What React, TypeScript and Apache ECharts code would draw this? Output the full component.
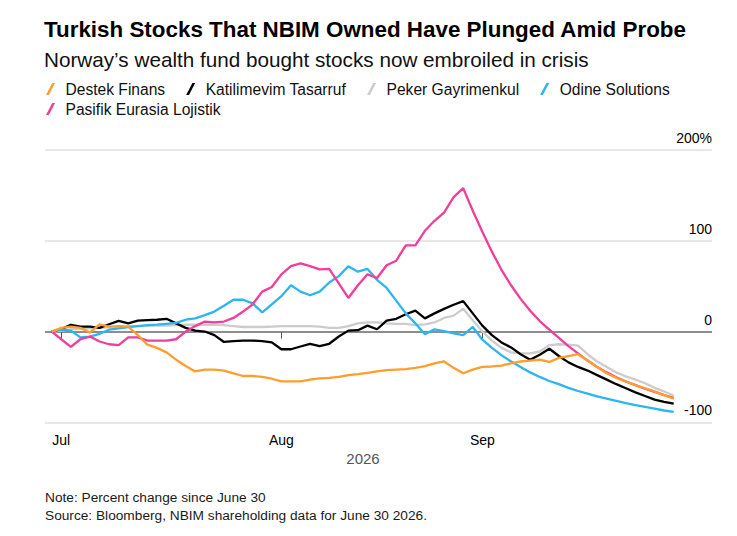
import React, { useEffect, useRef } from "react";
import * as echarts from "echarts";

// Trading-day index 0 = June 30 2026, 1 = July 1, 24 = Aug 3, 45 = Sep 1, 65 = Sep 30
const seriesNames = [
  "Destek Finans",
  "Katilimevim Tasarruf",
  "Peker Gayrimenkul",
  "Odine Solutions",
  "Pasifik Eurasia Lojistik",
];
const seriesColors = ["#ff9e2c", "#000000", "#cccccc", "#2cb5ef", "#f23d9b"];

const destek = [
  0, 4, 5.5, 4, -1, 8, 5.5, 6, 5.5, -4, -14.5, -18, -23, -31, -38, -44, -42, -42, -43, -46,
  -49, -49, -50, -52, -55, -55, -55, -53, -51.5, -51, -50, -48, -47, -45.5, -44, -42.5, -42, -41.5, -40, -38,
  -35, -33, -40, -46, -42, -39, -38.5, -37.5, -35, -33, -32, -31, -33.5, -29, -27, -25, -32, -39, -46, -51,
  -55, -59, -62.5, -66, -70, -74,
];
const katilimevim = [
  0, 2.6, 7.3, 5.5, 5.5, 4, 8, 11.7, 9, 12, 12.5, 13, 14, 9, 4, 1, 0, -4, -11.5, -10.5,
  -10, -10, -10.5, -12, -19.5, -19.5, -16.5, -13.5, -16, -13.5, -5.5, 1, 1.5, 6.5, 2.5, 12, 14, 19, 23, 14.5,
  20, 25, 29.5, 33.5, 20, 6.5, -4, -12, -17.5, -25, -31, -25.5, -19, -27, -34, -39, -43, -48, -53, -58,
  -62.5, -67, -71, -75, -77.5, -79.5,
];
const peker = [
  0, 1, 2.5, 3, 3.5, 4, 4.5, 5, 5.5, 6, 6, 6.5, 6.5, 7, 7.5, 7.5, 7.5, 7.5, 7, 6,
  5, 5, 5, 5.5, 6, 6, 6, 6, 5.5, 4, 4, 6, 9, 10, 10, 9, 8.5, 8.5, 7, 8,
  10, 15, 17.5, 25, 12.5, 0, -10, -18, -23, -24, -24, -22, -15, -14, -14.5, -15.5, -25, -33, -39, -45,
  -49.5, -53, -57, -62, -66, -70.5,
];
const odine = [
  0, 2, 1, -6.5, -5.5, -2.5, 2, 3.5, 5, 6, 7, 7.5, 8.5, 9.5, 13, 14.5, 18, 22, 28.5, 35,
  35, 31, 21, 30, 39, 51, 44, 40, 44, 54, 61, 72, 66, 69, 57, 48, 34, 20, 9, -3,
  2.5, 0.5, -2, -4, 5, -9, -18, -26, -33, -39, -45, -50, -54.5, -58, -62, -65.5, -68.5, -71.5, -74, -76.5,
  -79, -81, -83, -85, -87, -88.5,
];
const pasifik = [
  0, -8.5, -17, -8.5, -5.5, -11, -14, -15, -6.5, -6.5, -10, -10, -10, -8.5, 0, 6, 11, 10, 11, 15,
  22, 30, 44, 49, 63, 72, 75, 72, 68.5, 69, 53, 37, 51, 63, 59, 73, 78, 95, 95, 111,
  122, 131, 148, 158, 133, 110, 88, 68, 51, 36, 23, 11.5, 2, -7, -16, -24, -32, -39, -45, -50.5,
  -55, -59, -63, -66.5, -70, -73,
];
const seriesValues = [destek, katilimevim, peker, odine, pasifik];
const seriesZ = [6, 3, 2, 4, 5];

const monthTickIndex = [1, 24, 45];
const monthTickLabels = ["Jul", "Aug", "Sep"];
const yTicks = [-100, 0, 100, 200];

const FONT = "'Liberation Sans', Arial, Helvetica, sans-serif";
const SLASH = "path://M0,12 L2.8,12 L9,0 L6.2,0 Z";

export default function App() {
  const ref = useRef<HTMLDivElement>(null);

  useEffect(() => {
    document.body.style.margin = "0";
    if (!ref.current) return;
    const chart = echarts.init(ref.current, undefined, { renderer: "svg" });

    const series = seriesNames.map((name, k) => {
      const s: any = {
        name,
        type: "line",
        data: seriesValues[k].map((v, i) => [i, v]),
        showSymbol: false,
        symbol: "none",
        lineStyle: { width: 2.3, color: seriesColors[k] },
        itemStyle: { color: seriesColors[k] },
        z: seriesZ[k],
        emphasis: { disabled: true },
      };
      if (k === 0) {
        s.markLine = {
          silent: true,
          symbol: "none",
          label: { show: false },
          lineStyle: { color: "#6f6f6f", width: 1.6, type: "solid" },
          data: [{ yAxis: 0 }],
          z: 1,
        };
      }
      return s;
    });

    const legendCommon = {
      icon: SLASH,
      itemWidth: 10,
      itemHeight: 12,
      itemGap: 21,
      left: 46,
      padding: 0,
      selectedMode: false,
      textStyle: {
        fontFamily: FONT,
        fontSize: 15.6,
        color: "#111",
        padding: [0, 0, 0, 5],
      },
    };

    chart.setOption({
      animation: false,
      backgroundColor: "#ffffff",
      textStyle: { fontFamily: FONT },
      title: [
        {
          text: "Turkish Stocks That NBIM Owned Have Plunged Amid Probe",
          left: 44,
          top: 18,
          padding: 0,
          textStyle: { fontFamily: FONT, fontSize: 22.4, fontWeight: "bold", color: "#000" },
        },
        {
          text: "Norway\u2019s wealth fund bought stocks now embroiled in crisis",
          left: 44,
          top: 48.5,
          padding: 0,
          textStyle: { fontFamily: FONT, fontSize: 20.7, fontWeight: "normal", color: "#111" },
        },
      ],
      legend: [
        { ...legendCommon, top: 81, data: seriesNames.slice(0, 4) },
        { ...legendCommon, top: 101, data: seriesNames.slice(4) },
      ],
      grid: { left: 45, right: 25, top: 150, bottom: 113.7, containLabel: false },
      xAxis: {
        type: "value",
        min: -0.7,
        max: 69,
        splitLine: { show: false },
        axisLine: { show: false },
        axisTick: {
          show: true,
          customValues: monthTickIndex,
          length: 7,
          lineStyle: { color: "#555", width: 1 },
        },
        axisLabel: {
          customValues: monthTickIndex,
          formatter: (v: number) => monthTickLabels[monthTickIndex.indexOf(Math.round(v))] ?? "",
          fontFamily: FONT,
          fontSize: 14,
          color: "#000",
          margin: 11,
        },
      },
      yAxis: {
        type: "value",
        position: "right",
        min: -100,
        max: 200,
        interval: 100,
        axisLine: { show: false },
        axisTick: { show: false },
        splitLine: { show: true, lineStyle: { color: "#e0e0e0", width: 1.5 } },
        axisLabel: {
          inside: true,
          margin: 0,
          verticalAlign: "bottom",
          padding: [0, 0, 5, 0],
          fontFamily: FONT,
          fontSize: 14,
          color: "#000",
          formatter: (v: number) => (v === yTicks[yTicks.length - 1] ? `${v}%` : `${v}`),
        },
      },
      graphic: [
        {
          type: "text",
          x: 363,
          y: 458,
          style: {
            text: "2026",
            fontFamily: FONT,
            fontSize: 15,
            fill: "#555",
            align: "center",
            verticalAlign: "middle",
          },
        },
        {
          type: "text",
          x: 45,
          y: 497,
          style: {
            text: "Note: Percent change since June 30",
            fontFamily: FONT,
            fontSize: 13.7,
            fill: "#1a1a1a",
            verticalAlign: "middle",
          },
        },
        {
          type: "text",
          x: 45,
          y: 515,
          style: {
            text: "Source: Bloomberg, NBIM shareholding data for June 30 2026.",
            fontFamily: FONT,
            fontSize: 13.7,
            fill: "#1a1a1a",
            verticalAlign: "middle",
          },
        },
      ],
      series,
    });

    return () => chart.dispose();
  }, []);

  return <div ref={ref} style={{ width: 737, height: 536 }} />;
}
